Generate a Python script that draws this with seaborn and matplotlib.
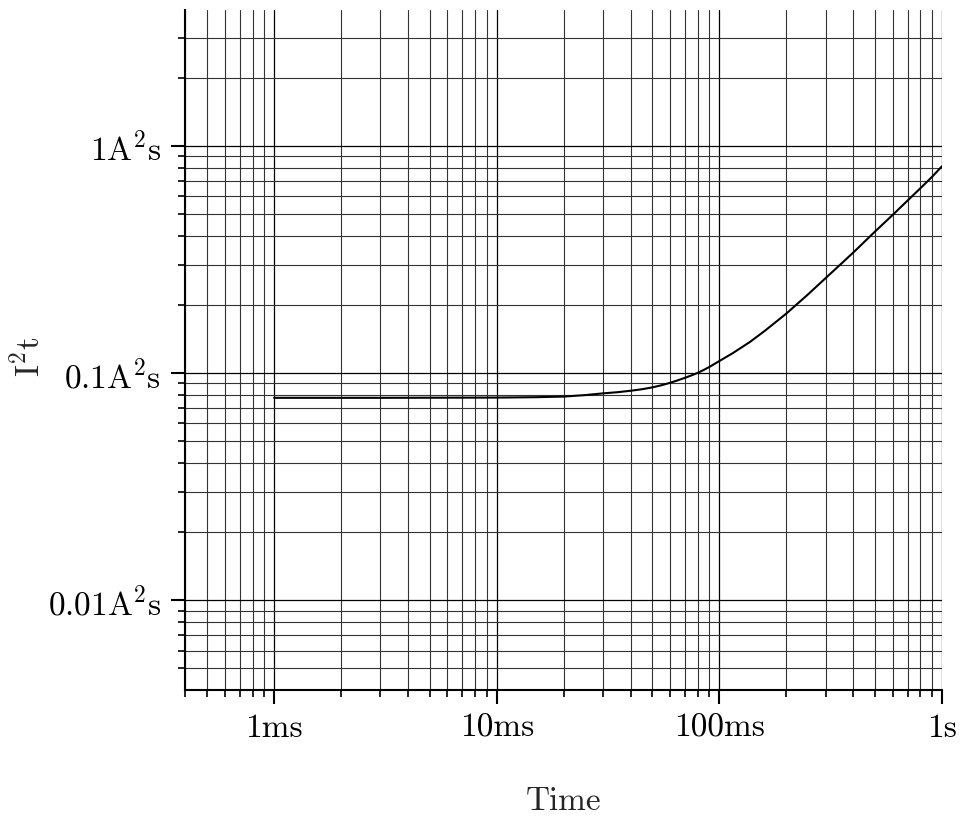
import matplotlib
matplotlib.use("Agg")
import matplotlib.pyplot as plt
import matplotlib.ticker as mticker
import seaborn as sns
import pandas as pd

# I2t curve (time in s, I2t in A^2 s)
tempo = [0.001, 0.003, 0.01, 0.015, 0.02, 0.025, 0.03, 0.035, 0.04, 0.045,
         0.05, 0.055, 0.06, 0.065, 0.07, 0.075, 0.08, 0.085, 0.09, 0.1,
         0.115, 0.137, 0.16, 0.2, 0.25, 0.3, 0.355, 0.4, 0.5, 0.6,
         0.7, 0.8, 0.9, 1.0]
i2t = [0.0778, 0.0778, 0.0780, 0.0783, 0.0788, 0.0800, 0.0814, 0.0824, 0.0836, 0.0849,
       0.0865, 0.0884, 0.0906, 0.0929, 0.0953, 0.0977, 0.1003, 0.1032, 0.1063, 0.113,
       0.1225, 0.137, 0.1535, 0.183, 0.222, 0.262, 0.305, 0.340, 0.420, 0.497,
       0.575, 0.652, 0.730, 0.815]

xticks = [0.001, 0.01, 0.1, 1]
xticklabels = ['1ms', '10ms', '100ms', '1s']
yticks = [0.01, 0.1, 1]
yticklabels = [r'$\mathrm{0.01A^{2}s}$', r'$\mathrm{0.1A^{2}s}$', r'$\mathrm{1A^{2}s}$']

df = pd.DataFrame({'Time': tempo, 'I2t': i2t})

sns.set_style('ticks')
plt.rcParams['font.family'] = 'serif'
plt.rcParams['font.serif'] = ['cmr10', 'DejaVu Serif']
plt.rcParams['mathtext.fontset'] = 'cm'
plt.rcParams['axes.unicode_minus'] = False

fig = plt.figure(figsize=(9.6, 8.16), dpi=100)
ax = fig.add_axes([0.1927, 0.1544, 0.7886, 0.8333])

sns.lineplot(data=df, x='Time', y='I2t', ax=ax, color='black', linewidth=1.5, zorder=3)

ax.set_xscale('log')
ax.set_yscale('log')
ax.set_xlim(3.98e-4, 1.0)
ax.set_ylim(4.02e-3, 3.97)

ax.xaxis.set_major_locator(mticker.FixedLocator(xticks))
ax.xaxis.set_major_formatter(mticker.FixedFormatter(xticklabels))
ax.yaxis.set_major_locator(mticker.FixedLocator(yticks))
ax.yaxis.set_major_formatter(mticker.FixedFormatter(yticklabels))
ax.xaxis.set_minor_locator(mticker.LogLocator(base=10, subs=range(2, 10), numticks=20))
ax.yaxis.set_minor_locator(mticker.LogLocator(base=10, subs=range(2, 10), numticks=20))
ax.xaxis.set_minor_formatter(mticker.NullFormatter())
ax.yaxis.set_minor_formatter(mticker.NullFormatter())

ax.grid(True, which='major', color='black', linewidth=0.9)
ax.grid(True, which='minor', color='#333333', linewidth=0.8)

sns.despine(ax=ax)
for s in ['left', 'bottom']:
    ax.spines[s].set_linewidth(1.5)
    ax.spines[s].set_color('black')

ax.tick_params(which='major', direction='out', length=10, width=1.5, colors='black',
               labelsize=24, pad=7)
ax.tick_params(which='minor', direction='out', length=5, width=1.2, colors='black')

ax.set_xlabel('Time', fontsize=24)
ax.set_ylabel(r'$\mathrm{I^{2}t}$', fontsize=24)
ax.xaxis.set_label_coords(0.5, -0.142)
ax.yaxis.set_label_coords(-0.185, 0.49)

fig.savefig('out.png', dpi=100)
